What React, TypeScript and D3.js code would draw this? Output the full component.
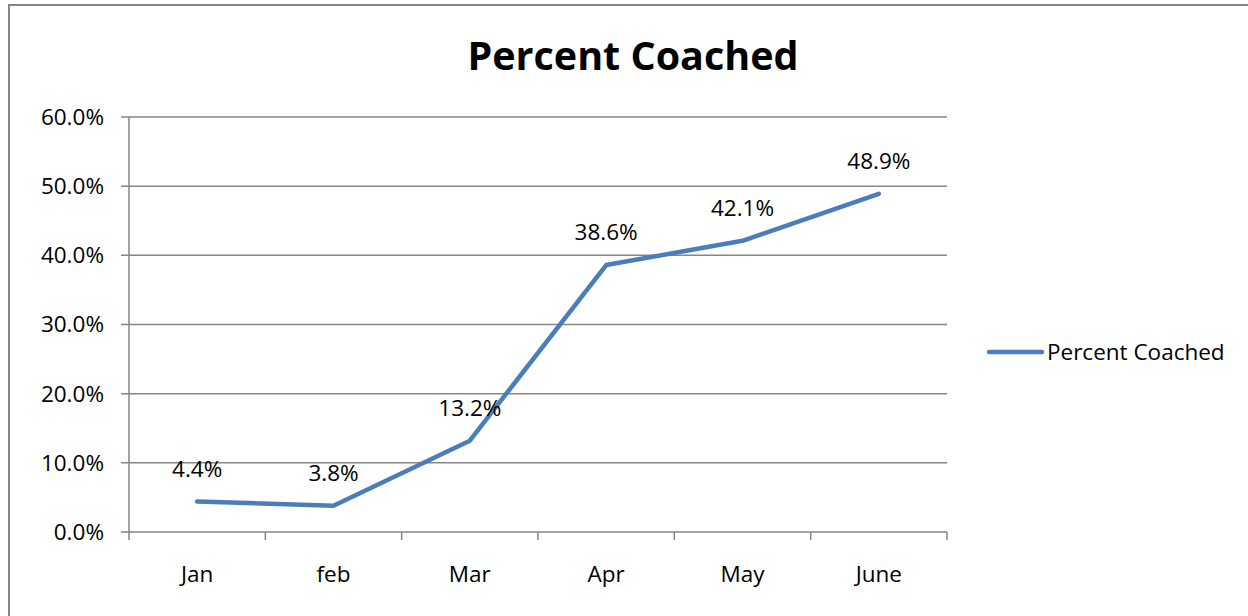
import { useEffect, useRef } from 'react';
import * as d3 from 'd3';

const months = ['Jan', 'feb', 'Mar', 'Apr', 'May', 'June'];
const percentCoached = [4.4, 3.8, 13.2, 38.6, 42.1, 48.9];
const yTicks = [0, 10, 20, 30, 40, 50, 60];
const seriesName = 'Percent Coached';
const chartTitle = 'Percent Coached';

const App = () => {
    const ref = useRef<SVGSVGElement | null>(null);

    useEffect(() => {
        const width = 1248;
        const height = 616;
        const plot = { left: 129, right: 947, top: 117, bottom: 532 };
        const font = '"Open Sans", sans-serif';
        const fs = 22.5;

        const svg = d3.select(ref.current)
            .attr('width', width)
            .attr('height', height);
        svg.selectAll('*').remove();

        svg.append('rect')
            .attr('x', 0).attr('y', 0)
            .attr('width', width).attr('height', height)
            .attr('fill', '#fff');

        // outer chart border
        svg.append('rect')
            .attr('x', 9).attr('y', 5)
            .attr('width', 1260).attr('height', 640)
            .attr('fill', 'none')
            .attr('stroke', '#868686')
            .attr('stroke-width', 2);

        svg.append('text')
            .attr('x', 633).attr('y', 70)
            .attr('text-anchor', 'middle')
            .attr('font-family', font)
            .attr('font-weight', 'bold')
            .attr('font-size', 39.5)
            .attr('fill', '#000')
            .text(chartTitle);

        const x = d3.scaleBand<string>()
            .domain(months)
            .range([plot.left, plot.right]);
        const y = d3.scaleLinear()
            .domain([0, 60])
            .range([plot.bottom, plot.top]);

        // gridlines + y ticks
        svg.append('g')
            .selectAll('line')
            .data(yTicks)
            .join('line')
            .attr('x1', plot.left - 8)
            .attr('x2', plot.right)
            .attr('y1', d => y(d))
            .attr('y2', d => y(d))
            .attr('stroke', '#868686')
            .attr('stroke-width', 1.5);

        svg.append('g')
            .selectAll('text')
            .data(yTicks)
            .join('text')
            .attr('x', 104)
            .attr('y', d => y(d))
            .attr('dy', '0.35em')
            .attr('text-anchor', 'end')
            .attr('font-family', font)
            .attr('font-size', fs)
            .attr('fill', '#000')
            .text(d => d.toFixed(1) + '%');

        // y axis line
        svg.append('line')
            .attr('x1', plot.left).attr('x2', plot.left)
            .attr('y1', plot.top).attr('y2', plot.bottom)
            .attr('stroke', '#868686')
            .attr('stroke-width', 1.5);

        // x ticks at category boundaries
        const boundaries = months.map(m => x(m) as number).concat([plot.right]);
        svg.append('g')
            .selectAll('line')
            .data(boundaries)
            .join('line')
            .attr('x1', d => d).attr('x2', d => d)
            .attr('y1', plot.bottom).attr('y2', plot.bottom + 8)
            .attr('stroke', '#868686')
            .attr('stroke-width', 1.5);

        svg.append('g')
            .selectAll('text')
            .data(months)
            .join('text')
            .attr('x', d => (x(d) as number) + x.bandwidth() / 2)
            .attr('y', 582)
            .attr('text-anchor', 'middle')
            .attr('font-family', font)
            .attr('font-size', fs)
            .attr('fill', '#000')
            .text(d => d);

        const line = d3.line<number>()
            .x((d, i) => (x(months[i]) as number) + x.bandwidth() / 2)
            .y(d => y(d));

        svg.append('path')
            .datum(percentCoached)
            .attr('d', line)
            .attr('fill', 'none')
            .attr('stroke', '#4a7ebb')
            .attr('stroke-width', 4.5)
            .attr('stroke-linejoin', 'round')
            .attr('stroke-linecap', 'round');

        svg.append('g')
            .selectAll('text')
            .data(percentCoached)
            .join('text')
            .attr('x', (d, i) => (x(months[i]) as number) + x.bandwidth() / 2)
            .attr('y', d => y(d) - 25)
            .attr('text-anchor', 'middle')
            .attr('font-family', font)
            .attr('font-size', fs)
            .attr('fill', '#000')
            .text(d => d.toFixed(1) + '%');

        // legend
        svg.append('line')
            .attr('x1', 989).attr('x2', 1042)
            .attr('y1', 352).attr('y2', 352)
            .attr('stroke', '#4a7ebb')
            .attr('stroke-width', 4.5)
            .attr('stroke-linecap', 'round');
        svg.append('text')
            .attr('x', 1047).attr('y', 352)
            .attr('dy', '0.35em')
            .attr('font-family', font)
            .attr('font-size', fs)
            .attr('fill', '#000')
            .text(seriesName);
    }, []);

    return (
        <svg ref={ref} style={{ position: 'absolute', left: 0, top: 0 }}></svg>
    );
};

export default App;
